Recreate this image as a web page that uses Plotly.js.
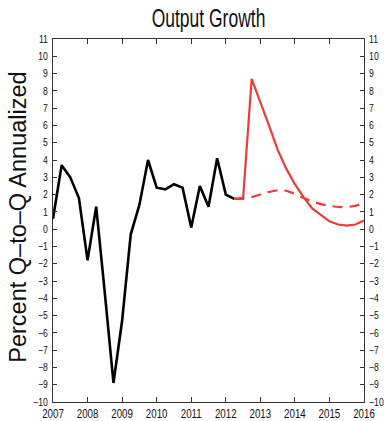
<!DOCTYPE html>
<html>
<head>
<meta charset="utf-8">
<script src="https://cdn.plot.ly/plotly-3.0.1.min.js"></script>
<style>
  html, body { margin: 0; padding: 0; background: #fff; }
  #chart { width: 386px; height: 421px; }
</style>
</head>
<body>
<div id="chart"></div>
<script>
// Quarterly real output growth, percent Q-to-Q annualized
const histQuarters = [
  '2007Q1','2007Q2','2007Q3','2007Q4',
  '2008Q1','2008Q2','2008Q3','2008Q4',
  '2009Q1','2009Q2','2009Q3','2009Q4',
  '2010Q1','2010Q2','2010Q3','2010Q4',
  '2011Q1','2011Q2','2011Q3','2011Q4',
  '2012Q1','2012Q2'
];
const histGrowth = [
  0.6, 3.7, 3.0, 1.8,
  -1.8, 1.3, -3.7, -8.9,
  -5.3, -0.3, 1.4, 4.0,
  2.4, 2.3, 2.6, 2.4,
  0.1, 2.5, 1.3, 4.1,
  2.0, 1.75
];

// Projection period
const projQuarters = [
  '2012Q2','2012Q3','2012Q4',
  '2013Q1','2013Q2','2013Q3','2013Q4',
  '2014Q1','2014Q2','2014Q3','2014Q4',
  '2015Q1','2015Q2','2015Q3','2015Q4',
  '2016Q1'
];
// Scenario path (solid)
const scenarioGrowth = [
  1.75, 1.75, 8.7,
  7.4, 6.0, 4.6, 3.5,
  2.6, 1.85, 1.2, 0.8,
  0.45, 0.27, 0.2, 0.27,
  0.5
];
// Baseline path (dashed)
const baselineGrowth = [
  1.75, 1.78, 1.85,
  2.0, 2.15, 2.25, 2.22,
  2.05, 1.8, 1.6, 1.45,
  1.35, 1.28, 1.27, 1.35,
  1.5
];

const yearTicks = [2007, 2008, 2009, 2010, 2011, 2012, 2013, 2014, 2015, 2016];
const yTicks = [-10, -9, -8, -7, -6, -5, -4, -3, -2, -1, 0, 1, 2, 3, 4, 5, 6, 7, 8, 9, 10, 11];

// "2007Q3" -> 2007.5 (start of the quarter on a decimal-year axis)
function toYear(q) {
  const y = parseInt(q.slice(0, 4), 10);
  const n = parseInt(q.slice(5), 10);
  return y + (n - 1) / 4;
}

const sans = '"Liberation Sans", Arial, sans-serif';
const red = '#ee3a3a';

const traces = [
  {
    x: histQuarters.map(toYear), y: histGrowth,
    mode: 'lines', line: { color: '#000000', width: 2.6 },
    hoverinfo: 'skip', showlegend: false
  },
  {
    x: projQuarters.map(toYear), y: baselineGrowth,
    mode: 'lines', line: { color: red, width: 2.2, dash: '10px,7px' },
    hoverinfo: 'skip', showlegend: false
  },
  {
    x: projQuarters.map(toYear), y: scenarioGrowth,
    yaxis: 'y2',
    mode: 'lines', line: { color: red, width: 2.2 },
    hoverinfo: 'skip', showlegend: false
  }
];

const yCommon = {
  range: [-10, 11],
  tickmode: 'array',
  tickvals: yTicks,
  ticks: 'inside',
  ticklen: 4,
  tickcolor: '#333',
  showgrid: false,
  zeroline: false,
  showline: true,
  linecolor: '#333',
  linewidth: 1,
  tickfont: { family: sans, size: 10.5, color: '#111' },
  fixedrange: true
};

const layout = {
  width: 386,
  height: 421,
  margin: { l: 53, r: 22, t: 39, b: 19 },
  paper_bgcolor: '#ffffff',
  plot_bgcolor: '#ffffff',
  title: {
    text: 'Output Growth',
    font: { family: sans, size: 25, color: '#111' },
    x: 0.5, xref: 'paper', xanchor: 'center',
    y: 0.936, yref: 'container', yanchor: 'bottom'
  },
  xaxis: {
    range: [2007, 2016],
    tickmode: 'array',
    tickvals: yearTicks,
    ticktext: yearTicks.map(String),
    ticks: 'inside',
    ticklen: 5,
    tickcolor: '#333',
    showgrid: false,
    zeroline: false,
    showline: true,
    mirror: 'ticks',
    linecolor: '#333',
    linewidth: 1,
    tickfont: { family: sans, size: 12.5, color: '#111' },
    ticklabelstandoff: 0,
    fixedrange: true
  },
  yaxis: Object.assign({}, yCommon, { side: 'left', ticklabelstandoff: 2 }),
  yaxis2: Object.assign({}, yCommon, { side: 'right', overlaying: 'y', ticklabelstandoff: 2 }),
  annotations: [
    {
      text: 'Percent Q\u2013to\u2013Q Annualized',
      textangle: -90,
      xref: 'paper', yref: 'paper',
      x: -0.113, y: 0.51,
      xanchor: 'center', yanchor: 'middle',
      showarrow: false,
      font: { family: sans, size: 23.5, color: '#111' }
    }
  ]
};

// Condense a text element horizontally about its own anchor point.
function condense(el, s) {
  const ax = parseFloat(el.getAttribute('x')) || 0;
  const prev = el.getAttribute('transform') || '';
  el.setAttribute('transform',
    prev + ' translate(' + ax + ',0) scale(' + s + ',1) translate(' + (-ax) + ',0)');
}

Plotly.newPlot('chart', traces, layout, { staticPlot: true, displayModeBar: false })
  .then(function (gd) {
    gd.querySelectorAll('.gtitle').forEach(function (t) { condense(t, 0.7); });
    gd.querySelectorAll('.xtick text').forEach(function (t) { condense(t, 0.78); });
    gd.querySelectorAll('.ytick text, .y2tick text').forEach(function (t) { condense(t, 0.82); });
  });
</script>
</body>
</html>
